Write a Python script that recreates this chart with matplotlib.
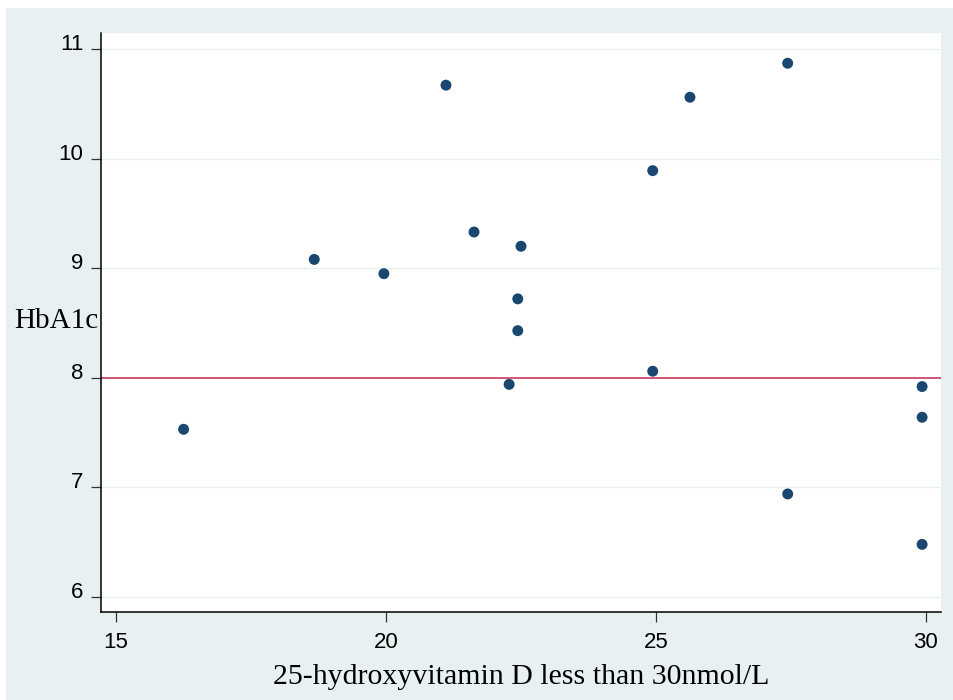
import matplotlib.pyplot as plt
from matplotlib.patches import Rectangle
from matplotlib.transforms import ScaledTranslation

# 25-hydroxyvitamin D (nmol/L) vs HbA1c
vit_d = [16.25, 18.67, 19.96, 21.11, 21.63, 22.28, 22.44, 22.44, 22.5,
         24.94, 24.94, 25.63, 27.44, 27.44, 29.93, 29.93, 29.93]
hba1c = [7.53, 9.08, 8.95, 10.67, 9.33, 7.94, 8.72, 8.43, 9.20,
         9.89, 8.06, 10.56, 10.87, 6.94, 7.92, 7.64, 6.48]

x_ticks = [15, 20, 25, 30]
y_ticks = [6, 7, 8, 9, 10, 11]
cutoff = 8

bg = "#e8f0f2"
navy = "#1a476f"

fig = plt.figure(figsize=(9.54, 7), dpi=100)
fig.patch.set_facecolor("white")
fig.add_artist(Rectangle((6 / 954, 0), 1, 692 / 700, transform=fig.transFigure,
                         facecolor=bg, edgecolor="none", zorder=-5))

ax = fig.add_axes([101 / 954, 88 / 700, 840 / 954, 579 / 700])
ax.set_zorder(1)
ax.set_facecolor("white")

ax.set_xlim(14.72, 30.28)
ax.set_ylim(5.863, 11.146)

for y in y_ticks:
    ax.axhline(y, color="#eaf0f0", lw=1, zorder=1)
ax.axhline(cutoff, color="#d0486e", lw=1.3, zorder=2)

ax.scatter(vit_d, hba1c, s=62, color=navy, edgecolors="none", zorder=3)

for s in ["top", "right"]:
    ax.spines[s].set_visible(False)
for s in ["left", "bottom"]:
    ax.spines[s].set_color("black")
    ax.spines[s].set_linewidth(1.1)

ax.set_xticks(x_ticks)
ax.set_yticks(y_ticks)
ax.tick_params(axis="both", direction="out", length=7.2, width=0.9, color="#333333",
               labelsize=16)
ax.tick_params(axis="x", pad=7)
ax.tick_params(axis="y", pad=5.5)
for lab in ax.get_xticklabels() + ax.get_yticklabels():
    lab.set_fontfamily("Liberation Sans")
# y labels sit a little above their ticks
up = ScaledTranslation(0, 5 / 72, fig.dpi_scale_trans)
for lab in ax.get_yticklabels():
    lab.set_transform(lab.get_transform() + up)

ax.set_xlabel("25-hydroxyvitamin D less than 30nmol/L", fontsize=21.5,
              fontfamily="Liberation Serif")
ax.xaxis.set_label_coords(0.5, -0.09)
ax.set_ylabel("HbA1c", fontsize=21, fontfamily="Liberation Serif",
              rotation=0, ha="right", va="center")
ax.yaxis.set_label_coords(-0.003, 0.503)

plt.savefig("out.png", dpi=100, facecolor=fig.get_facecolor())
plt.close("all")
